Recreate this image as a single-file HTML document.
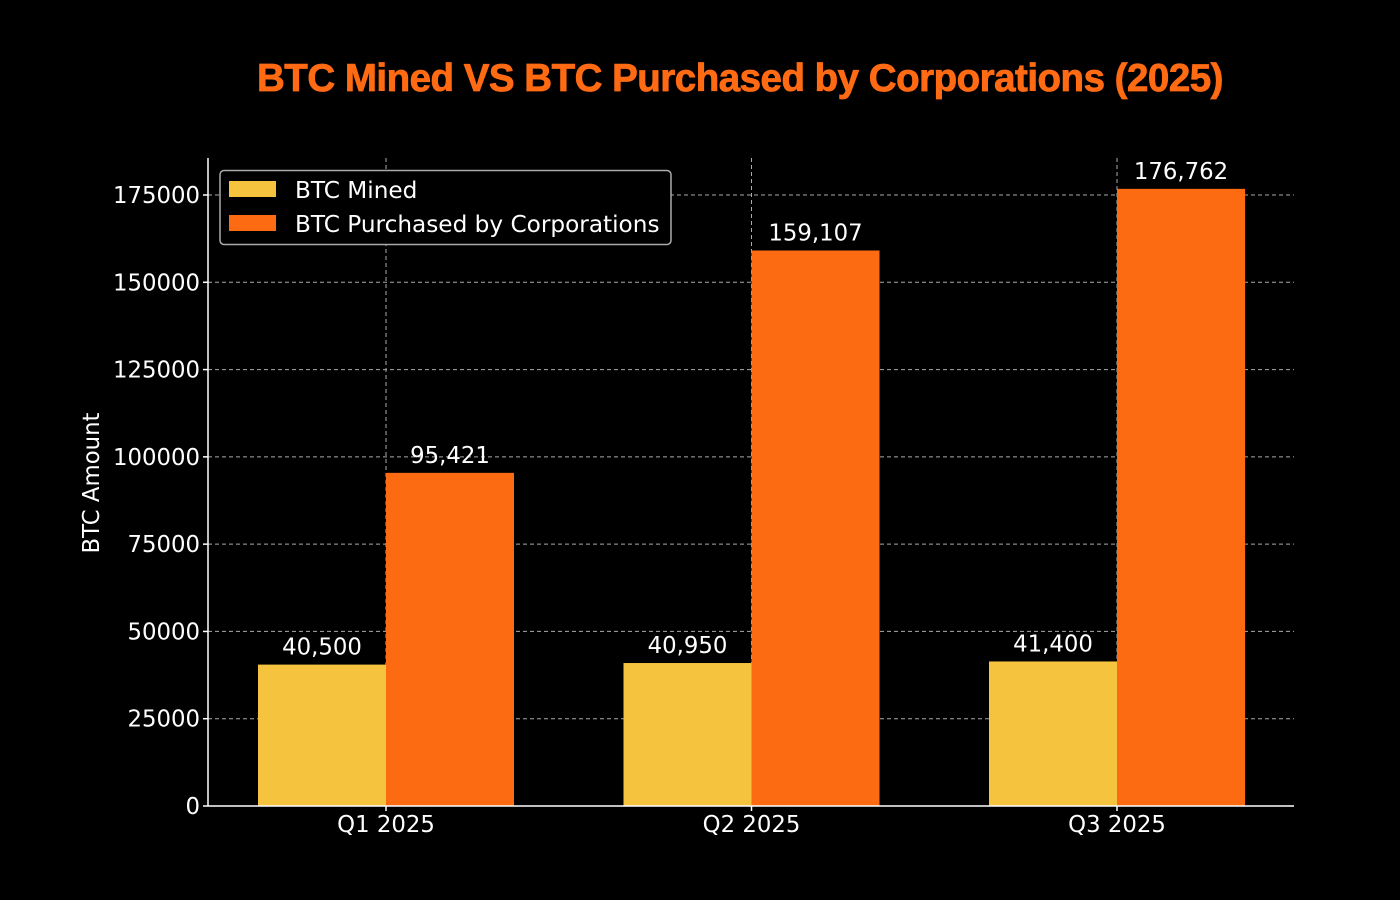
<!DOCTYPE html>
<html><head><meta charset="utf-8"><style>
html,body{margin:0;padding:0;background:#000;}
svg{display:block;}
text{font-family:"DejaVu Sans",sans-serif;fill:#fff;}
</style></head><body>
<svg id="chart" width="1400" height="900" xmlns="http://www.w3.org/2000/svg">
<rect width="1400" height="900" fill="#000"/>
<text x="740" y="91" text-anchor="middle" style="font-family:'Liberation Sans',sans-serif;font-weight:bold;font-size:38.5px;fill:#FF6A13;letter-spacing:-0.5px;stroke:#FF6A13;stroke-width:0.8px">BTC Mined VS BTC Purchased by Corporations (2025)</text>
<g id="grid"></g><g id="bars"></g><g id="axes"></g>
<g>
<rect x="220" y="170.5" width="451" height="74" rx="4" fill="#000" stroke="#aaa" stroke-width="1.5"/>
<rect x="229" y="181" width="47" height="16" fill="#F6C33E"/>
<text x="295" y="198" font-size="23.2">BTC Mined</text>
<rect x="229" y="215" width="47" height="16" fill="#FC6A12"/>
<text x="295" y="232" font-size="23.2">BTC Purchased by Corporations</text>
</g>
</svg>
<script>
const categories=["Q1 2025","Q2 2025","Q3 2025"];
const minedValues=[40500,40950,41400];
const purchasedValues=[95421,159107,176762];
const yTicks=[0,25000,50000,75000,100000,125000,150000,175000];
const NS="http://www.w3.org/2000/svg";
const L=208,R=1294,B=806,T=158,yMax=185600;
function y(v){return B-(v/yMax)*(B-T);}
const step=365.5;
function xc(i){return 386+step*i;}
const bw=128;
const fs='22.8';
function mk(tag,attrs,parent){const e=document.createElementNS(NS,tag);for(const k in attrs)e.setAttribute(k,attrs[k]);document.getElementById(parent).appendChild(e);return e;}
yTicks.forEach(t=>{
 const g=mk('line',{x1:L,x2:R,y1:y(t),y2:y(t),stroke:'#aaa','stroke-width':1,'stroke-dasharray':'4,3'},'grid');
 
 
 mk('line',{x1:L-5,x2:L,y1:y(t),y2:y(t),stroke:'#fff','stroke-width':1.5},'axes');
 const lb=mk('text',{x:L-8,y:y(t)+8,'text-anchor':'end','font-size':fs},'axes');
 lb.textContent=t;
 
 
});
categories.forEach((c,i)=>{
 const g=mk('line',{x1:xc(i),x2:xc(i),y1:T,y2:B,stroke:'#aaa','stroke-width':1,'stroke-dasharray':'4,3'},'grid');
 
 
 const series=[[minedValues[i],'#F6C33E',xc(i)-bw,'bar-mined'],[purchasedValues[i],'#FC6A12',xc(i),'bar-purchased']];
 series.forEach(s=>{
  const r=mk('rect',{x:s[2],y:y(s[0]),width:bw,height:B-y(s[0]),fill:s[1]},'bars');
  
  
  const t=mk('text',{x:s[2]+bw/2,y:y(s[0])-10,'text-anchor':'middle','font-size':fs},'bars');
  t.textContent=s[0].toLocaleString('en-US');
  
  
 });
 mk('line',{x1:xc(i),x2:xc(i),y1:B,y2:B+5,stroke:'#fff','stroke-width':1.5},'axes');
 const lb=mk('text',{x:xc(i),y:B+26,'text-anchor':'middle','font-size':fs},'axes');
 lb.textContent=c;
 
 
});
const yl=mk('line',{x1:L,x2:L,y1:T,y2:B,stroke:'#fff','stroke-width':1.5},'axes');


const xl=mk('line',{x1:L,x2:R,y1:B,y2:B,stroke:'#fff','stroke-width':1.5},'axes');


const yt=mk('text',{x:0,y:0,'text-anchor':'middle','font-size':fs,transform:'translate(99,483) rotate(-90)'},'axes');
yt.textContent='BTC Amount';


</script>
</body></html>
